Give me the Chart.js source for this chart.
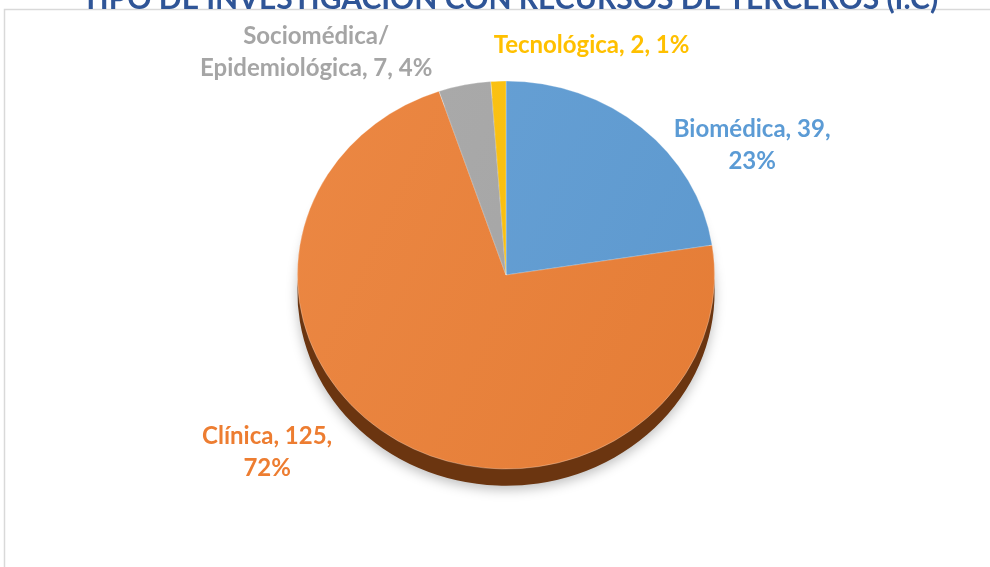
<!DOCTYPE html>
<html>
<head>
<meta charset="utf-8">
<script src="https://cdn.jsdelivr.net/npm/chart.js@4.4.1/dist/chart.umd.min.js"></script>
<style>
  html, body { margin: 0; padding: 0; background: #fff; }
  #wrap { position: relative; width: 990px; height: 567px; }
</style>
</head>
<body>
<div id="wrap"><canvas id="myChart" width="990" height="567"></canvas></div>
<script>
var categories = ['Biomédica', 'Clínica', 'Sociomédica/ Epidemiológica', 'Tecnológica'];
var values = [39, 125, 7, 2];
var percents = ['23%', '72%', '4%', '1%'];
var colors = ['#5B9BD5', '#ED7D31', '#A5A5A5', '#FFC000'];
var rimColors = ['#2f5678', '#6b3510', '#555555', '#7a5c00'];
var labelColors = ['#5B9BD5', '#ED7D31', '#A5A5A5', '#FFC000'];
var titleText = 'TIPO DE INVESTIGACIÓN CON RECURSOS DE TERCEROS (I.C)';

// label text lines and where they sit, as a fraction of the pie radius from its centre
var labelLines = [
    ['Biomédica, 39,', '23%'],
    ['Clínica, 125,', '72%'],
    ['Sociomédica/', 'Epidemiológica, 7, 4%'],
    ['Tecnológica, 2, 1%']
];
var labelSpots = [[1.18, -0.62], [-1.145, 0.85], [-0.91, -1.07], [0.41, -1.10]];

var squash = 0.93;
var font = 'bold 24px Lato, "Open Sans", sans-serif';

function squashStart(chart) {
    var a = chart.getDatasetMeta(0).data[0];
    var ctx = chart.ctx;
    ctx.save();
    ctx.translate(a.x, a.y);
    ctx.scale(1, squash);
    ctx.translate(-a.x, -a.y);
}

var frame = {
    id: 'frame',
    beforeDraw: function (chart) {
        var ctx = chart.ctx;
        ctx.save();
        ctx.strokeStyle = '#d9d9d9';
        ctx.lineWidth = 1.5;
        ctx.beginPath();
        ctx.moveTo(4.5, 567);
        ctx.lineTo(4.5, 9.5);
        ctx.lineTo(990, 9.5);
        ctx.stroke();
        ctx.fillStyle = '#2F5597';
        ctx.font = 'bold 30px Lato, "Open Sans", sans-serif';
        ctx.textAlign = 'center';
        ctx.textBaseline = 'alphabetic';
        ctx.fillText(titleText, 510, 9);
        ctx.restore();
    }
};

var depth = {
    id: 'depth',
    beforeDatasetsDraw: function (chart) {
        var ctx = chart.ctx;
        var arcs = chart.getDatasetMeta(0).data;
        // soft shadow + dark rim under the top face
        squashStart(chart);
        ctx.translate(0, 18);
        arcs.forEach(function (arc, i) {
            ctx.save();
            ctx.shadowColor = 'rgba(0,0,0,0.25)';
            ctx.shadowBlur = 12;
            ctx.shadowOffsetY = 4;
            ctx.fillStyle = rimColors[i];
            ctx.beginPath();
            ctx.moveTo(arc.x, arc.y);
            ctx.arc(arc.x, arc.y, arc.outerRadius, arc.startAngle, arc.endAngle);
            ctx.closePath();
            ctx.fill();
            ctx.restore();
        });
        ctx.restore();
        squashStart(chart);
    },
    afterDatasetsDraw: function (chart) {
        chart.ctx.restore();
    }
};

var labels = {
    id: 'sliceLabels',
    afterDraw: function (chart) {
        var ctx = chart.ctx;
        var arcs = chart.getDatasetMeta(0).data;
        ctx.save();
        ctx.font = font;
        ctx.textAlign = 'center';
        ctx.textBaseline = 'middle';
        arcs.forEach(function (arc, i) {
            var r = arc.outerRadius;
            var x = arc.x + r * labelSpots[i][0];
            var y = arc.y + r * labelSpots[i][1];
            var lines = labelLines[i];
            var lh = 32;
            var y0 = y - (lines.length - 1) * lh / 2;
            ctx.fillStyle = labelColors[i];
            lines.forEach(function (t, k) {
                ctx.fillText(t, x, y0 + k * lh);
            });
        });
        ctx.restore();
    }
};

function shade(context) {
    var chart = context.chart;
    var area = chart.chartArea;
    var base = colors[context.dataIndex];
    if (!area) return base;
    var g = chart.ctx.createLinearGradient(area.left, area.top, area.right, area.bottom);
    g.addColorStop(0, lighten(base, 0.12));
    g.addColorStop(1, lighten(base, -0.05));
    return g;
}

function lighten(hex, amt) {
    var n = parseInt(hex.slice(1), 16);
    var c = [(n >> 16) & 255, (n >> 8) & 255, n & 255].map(function (v) {
        var o = amt >= 0 ? v + (255 - v) * amt : v * (1 + amt);
        return Math.round(Math.max(0, Math.min(255, o)));
    });
    return 'rgb(' + c.join(',') + ')';
}

var ctx1 = document.getElementById('myChart').getContext('2d');

var myChart1 = new Chart(ctx1, {
    type: 'pie',
    data: {
        labels: categories,
        datasets: [{
            data: values,
            backgroundColor: shade,
            borderColor: 'rgba(255,255,255,0.35)',
            borderWidth: 0.8
        }]
    },
    options: {
        responsive: false,
        animation: false,
        layout: {
            padding: { left: 22, right: 0, top: 66, bottom: 83 }
        },
        plugins: {
            legend: { display: false },
            tooltip: { enabled: false }
        }
    },
    plugins: [frame, depth, labels]
});
</script>
</body>
</html>
